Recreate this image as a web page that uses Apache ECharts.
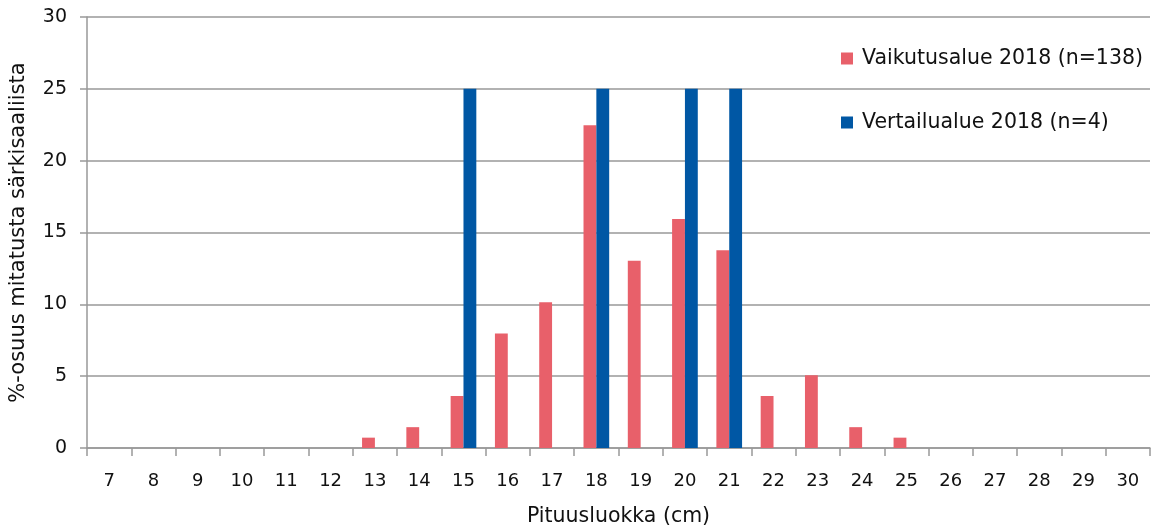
<!DOCTYPE html>
<html>
<head>
<meta charset="utf-8">
<script src="https://cdn.jsdelivr.net/npm/echarts@6/dist/echarts.min.js"></script>
<style>
  html, body { margin: 0; padding: 0; background: #fff; }
  #chart { width: 1159px; height: 530px; }
</style>
</head>
<body>
<div id="chart"></div>
<script>
// Length classes (cm)
const categories = ['7','8','9','10','11','12','13','14','15','16','17','18','19','20','21','22','23','24','25','26','27','28','29','30'];
// Share of measured roach catch, %
const vaikutusalue = [0,0,0,0,0,0,0.72,1.45,3.62,7.97,10.14,22.46,13.04,15.94,13.77,3.62,5.07,1.45,0.72,0,0,0,0,0];
const vertailualue = [0,0,0,0,0,0,0,0,25,0,0,25,0,25,25,0,0,0,0,0,0,0,0,0];
const yTicks = { min: 0, max: 30, interval: 5 };

const font = '"DejaVu Sans", sans-serif';
const chart = echarts.init(document.getElementById('chart'));
chart.setOption({
  animation: false,
  grid: { left: 87, right: 9, top: 17, bottom: 82, containLabel: false, outerBoundsMode: 'none' },
  legend: {
    orient: 'vertical',
    left: 836,
    top: 43,
    itemGap: 43,
    itemWidth: 12,
    itemHeight: 12,
    icon: 'rect',
    textStyle: { fontFamily: font, fontSize: 20.5, color: '#111', padding: [0, 0, 0, 4] },
    data: ['Vaikutusalue 2018 (n=138)', 'Vertailualue 2018 (n=4)']
  },
  xAxis: {
    type: 'category',
    data: categories,
    name: 'Pituusluokka (cm)',
    nameLocation: 'middle',
    nameGap: 58,
    nameTextStyle: { fontFamily: font, fontSize: 20.5, color: '#111' },
    axisLine: { lineStyle: { color: '#999', width: 1.5 } },
    axisTick: { show: true, alignWithLabel: false, length: 8, lineStyle: { color: '#999', width: 1.5 } },
    axisLabel: { fontFamily: font, fontSize: 18, color: '#111', margin: 24 }
  },
  yAxis: {
    type: 'value',
    min: yTicks.min,
    max: yTicks.max,
    interval: yTicks.interval,
    name: '%-osuus mitatusta särkisaaliista',
    nameLocation: 'middle',
    nameGap: 58,
    nameRotate: 90,
    nameTextStyle: { fontFamily: font, fontSize: 21, color: '#111' },
    axisLine: { show: true, lineStyle: { color: '#999', width: 1.5 } },
    axisTick: { show: true, length: 7, lineStyle: { color: '#999', width: 1.5 } },
    splitLine: { lineStyle: { color: '#999', width: 1.5 } },
    axisLabel: { fontFamily: font, fontSize: 19, color: '#111', margin: 20 }
  },
  series: [
    {
      name: 'Vaikutusalue 2018 (n=138)',
      type: 'bar',
      data: vaikutusalue,
      barWidth: '29%',
      barGap: '0%',
      itemStyle: { color: '#E8606A' }
    },
    {
      name: 'Vertailualue 2018 (n=4)',
      type: 'bar',
      data: vertailualue,
      barWidth: '29%',
      itemStyle: { color: '#0057A4' }
    }
  ]
});
</script>
</body>
</html>
